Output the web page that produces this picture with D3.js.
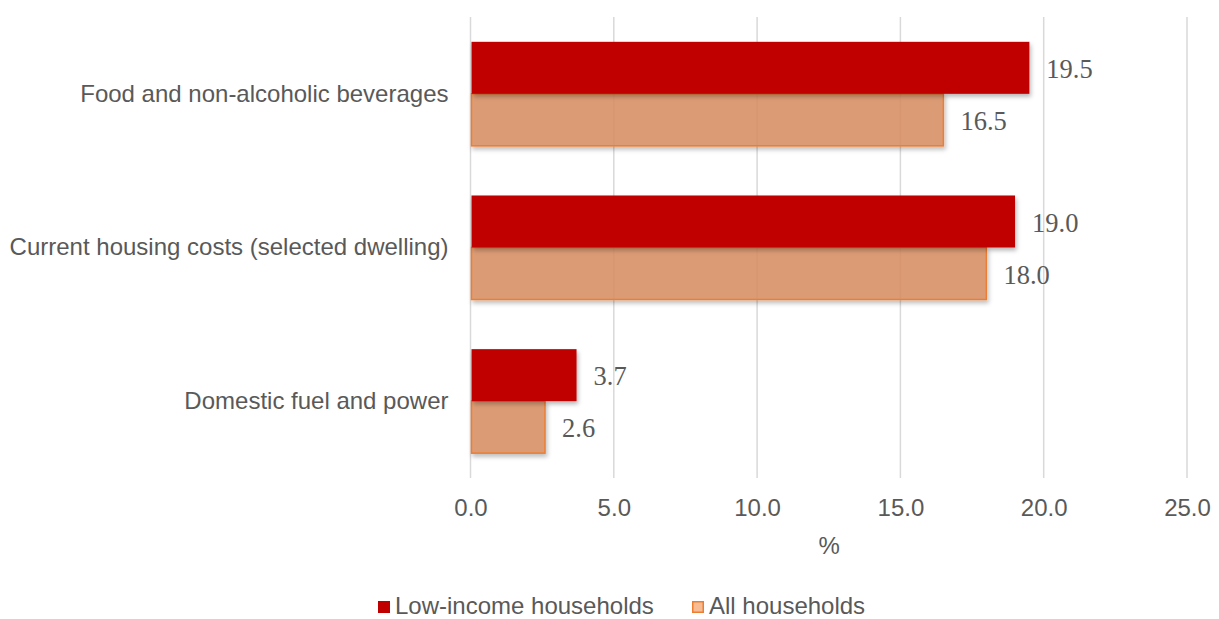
<!DOCTYPE html>
<html>
<head>
<meta charset="utf-8">
<script src="https://cdn.jsdelivr.net/npm/d3@7"></script>
<style>
  html, body { margin: 0; padding: 0; background: #fff; }
  svg { display: block; }
</style>
</head>
<body>
<svg id="chart" width="1219" height="619"></svg>
<script>
// Share of spending by household type
const categories = [
  "Food and non-alcoholic beverages",
  "Current housing costs (selected dwelling)",
  "Domestic fuel and power"
];
const seriesNames = ["Low-income households", "All households"];
const lowIncome = [19.5, 19.0, 3.7];
const allHouseholds = [16.5, 18.0, 2.6];
const xTicks = [0, 5, 10, 15, 20, 25];
const axisTitle = "%";

const svg = d3.select("#chart");
const W = 1219, H = 619;
const margin = { top: 17, right: 32, bottom: 141, left: 470.5 };
const innerW = W - margin.left - margin.right;
const innerH = H - margin.top - margin.bottom;

const textColor = "#595959";
const gridColor = "#d9d9d9";
const sansFont = "'Liberation Sans', Arial, sans-serif";
const serifFont = "'Liberation Serif', 'DejaVu Serif', serif";
const fontSize = "24px";

const defs = svg.append("defs");
const shadow = defs.append("filter").attr("id", "barShadow")
  .attr("x", "-10%").attr("y", "-20%").attr("width", "130%").attr("height", "160%");
shadow.append("feDropShadow")
  .attr("dx", 1.5).attr("dy", 3).attr("stdDeviation", 2.2)
  .attr("flood-color", "#000").attr("flood-opacity", 0.28);

const g = svg.append("g").attr("transform", `translate(${margin.left},${margin.top})`);

const x = d3.scaleLinear().domain([0, 25]).range([0, innerW]);
const y = d3.scaleBand().domain(categories).range([0, innerH])
  .paddingInner(0.323).paddingOuter(0.1615);
const ySub = d3.scaleBand().domain(seriesNames).range([0, y.bandwidth()]);

// vertical gridlines
g.append("g").selectAll("line").data(xTicks).join("line")
  .attr("x1", d => x(d)).attr("x2", d => x(d))
  .attr("y1", 0).attr("y2", innerH)
  .attr("stroke", gridColor).attr("stroke-width", 1.5);

// x axis tick labels
const xAxis = d3.axisBottom(x).tickValues(xTicks).tickFormat(d3.format(".1f")).tickSize(0).tickPadding(0);
const xa = g.append("g").attr("transform", `translate(0,${innerH + 24})`).call(xAxis);
xa.select(".domain").remove();
xa.selectAll("text")
  .attr("dy", "0.35em").attr("y", 6)
  .attr("fill", textColor).style("font-family", sansFont).style("font-size", fontSize);

// y axis category labels
const yAxis = d3.axisLeft(y).tickSize(0).tickPadding(22);
const ya = g.append("g").call(yAxis);
ya.select(".domain").remove();
ya.selectAll("text")
  .attr("fill", textColor).style("font-family", sansFont).style("font-size", fontSize);

// axis title
g.append("text")
  .attr("x", innerW / 2 + 0.5).attr("y", innerH + 68)
  .attr("text-anchor", "middle").attr("dy", "0.35em")
  .attr("fill", textColor).style("font-family", sansFont).style("font-size", fontSize)
  .text(axisTitle);

const rows = categories.map((c, i) => ({ cat: c, values: [
  { key: seriesNames[0], v: lowIncome[i] },
  { key: seriesNames[1], v: allHouseholds[i] }
]}));

const styles = {
  "Low-income households": { fill: "#C00000", fillOpacity: 1, stroke: "none" },
  "All households": { fill: "#DA9064", fillOpacity: 0.85, stroke: "#ED7D31" }
};

const groups = g.append("g").selectAll("g").data(rows).join("g")
  .attr("transform", d => `translate(0,${y(d.cat)})`);

// draw the lower series first so the upper bar's shadow falls over it
groups.selectAll("rect").data(d => d.values.slice().reverse()).join("rect")
  .attr("x", x(0) + 1)
  .attr("y", d => ySub(d.key))
  .attr("width", d => x(d.v) - x(0) - 1)
  .attr("height", ySub.bandwidth())
  .attr("fill", d => styles[d.key].fill)
  .attr("fill-opacity", d => styles[d.key].fillOpacity)
  .attr("stroke", d => styles[d.key].stroke)
  .attr("stroke-width", 1.5)
  .attr("filter", "url(#barShadow)");

// value labels
groups.selectAll("text.val").data(d => d.values).join("text")
  .attr("class", "val")
  .attr("x", d => x(d.v) + 17)
  .attr("y", d => ySub(d.key) + ySub.bandwidth() / 2 + 1)
  .attr("dy", "0.35em")
  .attr("fill", textColor)
  .style("font-family", serifFont).style("font-size", "26.5px")
  .text(d => d3.format(".1f")(d.v));

// legend
const legend = svg.append("g").attr("transform", `translate(0,606)`);
const legendItems = [
  { key: seriesNames[0], x: 378, fill: "#C00000", stroke: "none" },
  { key: seriesNames[1], x: 692, fill: "#F8BC94", stroke: "#ED7D31" }
];
const li = legend.selectAll("g").data(legendItems).join("g")
  .attr("transform", d => `translate(${d.x},0)`);
li.append("rect")
  .attr("x", d => d.stroke === "none" ? 0 : 0.75).attr("y", d => d.stroke === "none" ? -5 : -4.25)
  .attr("width", d => d.stroke === "none" ? 12 : 10.5).attr("height", d => d.stroke === "none" ? 12 : 10.5)
  .attr("fill", d => d.fill).attr("stroke", d => d.stroke).attr("stroke-width", 1.5);
li.append("text")
  .attr("x", 17).attr("dy", "0.35em")
  .attr("fill", textColor).style("font-family", sansFont).style("font-size", fontSize)
  .text(d => d.key);
</script>
</body>
</html>
